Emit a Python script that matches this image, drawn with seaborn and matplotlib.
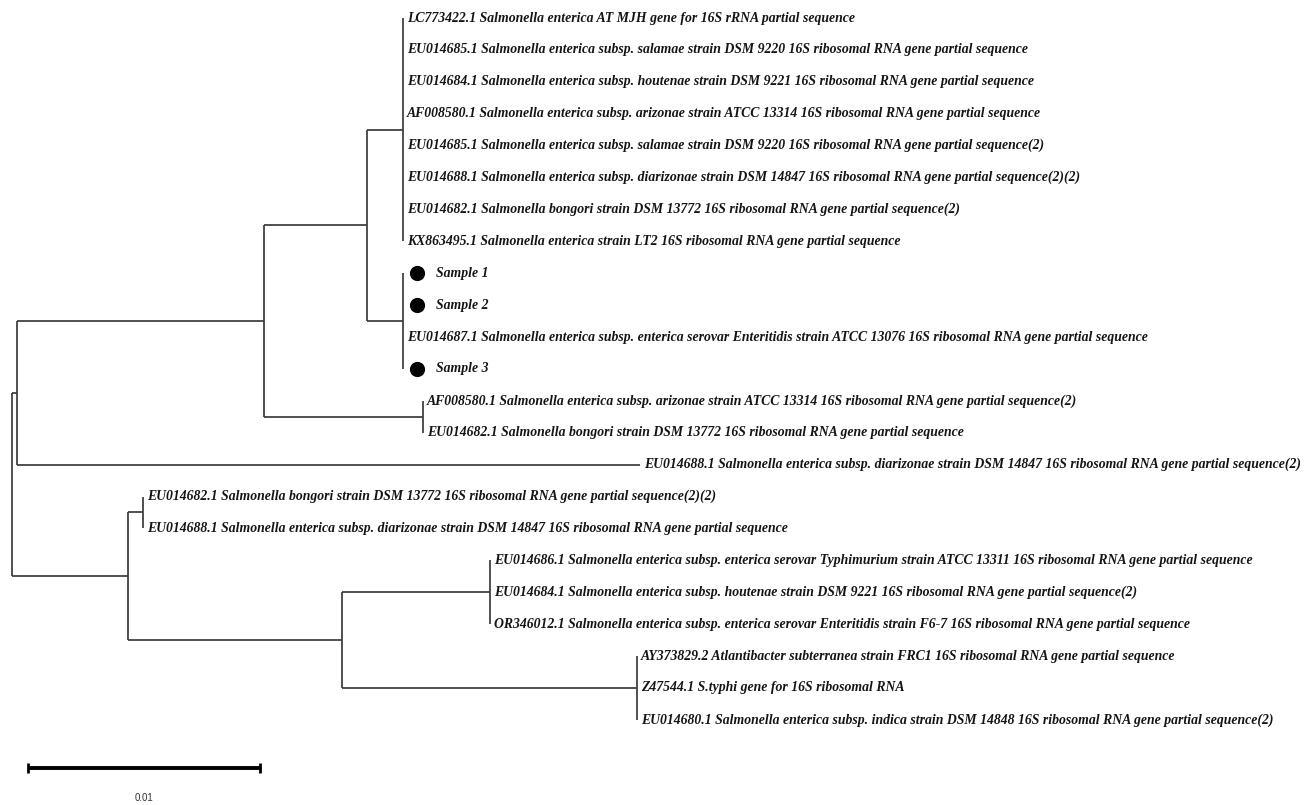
import matplotlib
matplotlib.use("Agg")
import matplotlib.pyplot as plt
import seaborn as sns
import pandas as pd

# ---------------- data ----------------
leaf_labels = [
    "LC773422.1 Salmonella enterica AT MJH gene for 16S rRNA partial sequence",
    "EU014685.1 Salmonella enterica subsp. salamae strain DSM 9220 16S ribosomal RNA gene partial sequence",
    "EU014684.1 Salmonella enterica subsp. houtenae strain DSM 9221 16S ribosomal RNA gene partial sequence",
    "AF008580.1 Salmonella enterica subsp. arizonae strain ATCC 13314 16S ribosomal RNA gene partial sequence",
    "EU014685.1 Salmonella enterica subsp. salamae strain DSM 9220 16S ribosomal RNA gene partial sequence(2)",
    "EU014688.1 Salmonella enterica subsp. diarizonae strain DSM 14847 16S ribosomal RNA gene partial sequence(2)(2)",
    "EU014682.1 Salmonella bongori strain DSM 13772 16S ribosomal RNA gene partial sequence(2)",
    "KX863495.1 Salmonella enterica strain LT2 16S ribosomal RNA gene partial sequence",
    "Sample 1",
    "Sample 2",
    "EU014687.1 Salmonella enterica subsp. enterica serovar Enteritidis strain ATCC 13076 16S ribosomal RNA gene partial sequence",
    "Sample 3",
    "AF008580.1 Salmonella enterica subsp. arizonae strain ATCC 13314 16S ribosomal RNA gene partial sequence(2)",
    "EU014682.1 Salmonella bongori strain DSM 13772 16S ribosomal RNA gene partial sequence",
    "EU014688.1 Salmonella enterica subsp. diarizonae strain DSM 14847 16S ribosomal RNA gene partial sequence(2)",
    "EU014682.1 Salmonella bongori strain DSM 13772 16S ribosomal RNA gene partial sequence(2)(2)",
    "EU014688.1 Salmonella enterica subsp. diarizonae strain DSM 14847 16S ribosomal RNA gene partial sequence",
    "EU014686.1 Salmonella enterica subsp. enterica serovar Typhimurium strain ATCC 13311 16S ribosomal RNA gene partial sequence",
    "EU014684.1 Salmonella enterica subsp. houtenae strain DSM 9221 16S ribosomal RNA gene partial sequence(2)",
    "OR346012.1 Salmonella enterica subsp. enterica serovar Enteritidis strain F6-7 16S ribosomal RNA gene partial sequence",
    "AY373829.2 Atlantibacter subterranea strain FRC1 16S ribosomal RNA gene partial sequence",
    "Z47544.1 S.typhi gene for 16S ribosomal RNA",
    "EU014680.1 Salmonella enterica subsp. indica strain DSM 14848 16S ribosomal RNA gene partial sequence(2)",
]
leaf_parent = ["E"] * 8 + ["F"] * 4 + ["D", "D", "A", "K", "K", "I", "I", "I", "J", "J", "J"]
leaf_length = [0.0] * 14 + [0.02685] + [0.0] * 8
is_sample = [False] * 8 + [True, True, False, True] + [False] * 11

node_names = ["root", "A", "B", "C", "E", "F", "D", "G", "K", "H", "I", "J"]
node_parent = [None, "root", "A", "B", "C", "C", "B", "root", "G", "G", "H", "H"]
node_length = [0.0, 0.00022, 0.01065, 0.00444, 0.00155, 0.00155, 0.00685,
               0.00500, 0.00065, 0.00922, 0.00638, 0.01272]

scale_bar_length = 0.01
scale_bar_label = "0.01"

# ---------------- layout ----------------
W, H = 1305, 805
PX_PER_UNIT = 23200.0
ROOT_PX = 12.0
Y0_PX, DY_PX = 18.0, 31.9

node_x = {}
for n, p, l in zip(node_names, node_parent, node_length):
    node_x[n] = 0.0 if p is None else node_x[p] + l
leaf_x = [node_x[p] + l for p, l in zip(leaf_parent, leaf_length)]
leaf_y = list(range(len(leaf_labels)))

children = {n: [] for n in node_names}
for i, p in enumerate(leaf_parent):
    children[p].append(("leaf", i))
for n, p in zip(node_names, node_parent):
    if p is not None:
        children[p].append(("node", n))

node_y = {}
def child_y(c):
    return leaf_y[c[1]] if c[0] == "leaf" else node_y[c[1]]
for n in reversed(node_names):
    ys = [child_y(c) for c in children[n]]
    node_y[n] = (min(ys) + max(ys)) / 2.0

sns.set_theme(style="white")
plt.rcParams["font.family"] = ["Liberation Serif", "DejaVu Serif"]

fig = plt.figure(figsize=(W / 100, H / 100), dpi=100)
ax = fig.add_axes([0, 0, 1, 1])
xmin = -ROOT_PX / PX_PER_UNIT
xmax = (W - ROOT_PX) / PX_PER_UNIT
ytop = -Y0_PX / DY_PX
ybot = (H - Y0_PX) / DY_PX
ax.set_xlim(xmin, xmax)
ax.set_ylim(ybot, ytop)
ax.axis("off")
px = 1.0 / PX_PER_UNIT  # data units per pixel

lc = "#3a3a3a"
lw = 1.25
# horizontal branches for internal nodes
for n, p in zip(node_names, node_parent):
    if p is not None:
        ax.plot([node_x[p], node_x[n]], [node_y[n], node_y[n]], color=lc, lw=lw, solid_capstyle="butt")
# horizontal branches for leaves
for i, (p, l) in enumerate(zip(leaf_parent, leaf_length)):
    if l > 0:
        ax.plot([node_x[p], leaf_x[i]], [leaf_y[i], leaf_y[i]], color=lc, lw=lw, solid_capstyle="butt")
# vertical connectors
for n in node_names:
    ys = [child_y(c) for c in children[n]]
    ax.plot([node_x[n], node_x[n]], [min(ys), max(ys)], color=lc, lw=lw, solid_capstyle="butt")

# sample markers
samples = pd.DataFrame({
    "x": [leaf_x[i] + 14 * px for i in range(len(leaf_labels)) if is_sample[i]],
    "y": [leaf_y[i] for i in range(len(leaf_labels)) if is_sample[i]],
})
sns.scatterplot(data=samples, x="x", y="y", ax=ax, color="black", s=120,
                marker="o", edgecolor="black", linewidth=0, legend=False, zorder=3)

# labels
for i, lab in enumerate(leaf_labels):
    off = 33 if is_sample[i] else 4
    ax.text(leaf_x[i] + off * px, leaf_y[i], lab, fontsize=9.9, fontweight="bold",
            fontstyle="italic", color="#151515", va="center", ha="left")

# scale bar
sb_x0 = 16 * px
sb_y = (768 - Y0_PX) / DY_PX
cap = 5 / DY_PX
ax.plot([sb_x0, sb_x0 + scale_bar_length], [sb_y, sb_y], color="black", lw=2.8, solid_capstyle="butt")
for xx in (sb_x0, sb_x0 + scale_bar_length):
    ax.plot([xx, xx], [sb_y - cap, sb_y + cap], color="black", lw=2.0, solid_capstyle="butt")
ax.text(sb_x0 + scale_bar_length / 2, (798 - Y0_PX) / DY_PX, scale_bar_label,
        fontsize=7, family="Liberation Sans", color="#333333", ha="center", va="center")

fig.savefig("out.png", dpi=100)
